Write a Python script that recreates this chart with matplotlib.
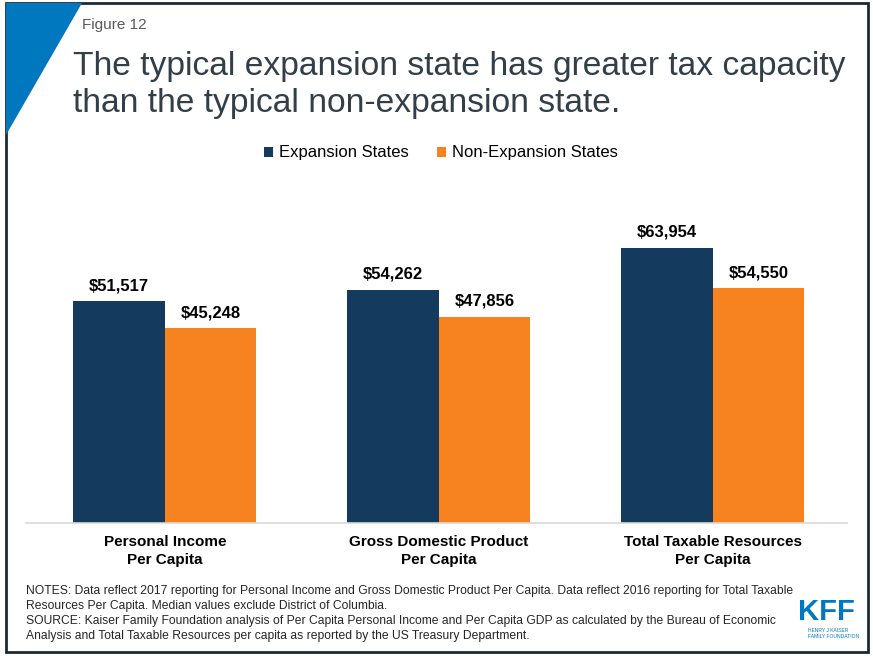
import matplotlib
matplotlib.use("Agg")
import matplotlib.pyplot as plt
import numpy as np
from matplotlib.patches import Polygon, Rectangle

categories = ["Personal Income\nPer Capita", "Gross Domestic Product\nPer Capita", "Total Taxable Resources\nPer Capita"]
expansion = [51517, 54262, 63954]
non_expansion = [45248, 47856, 54550]
series_names = ["Expansion States", "Non-Expansion States"]

NAVY = "#143A5E"
ORANGE = "#F68220"
TXT = "#333F48"

plt.rcParams['font.family'] = ['Liberation Sans', 'DejaVu Sans']

fig = plt.figure(figsize=(8.73, 6.56), dpi=100)
fig.patch.set_facecolor("white")

W, H = 873, 656
def fx(px): return px / W
def fy(py): return 1 - py / H

# frame
fig.add_artist(Rectangle((fx(6), fy(652)), fx(868) - fx(6), fy(3) - fy(652),
                         transform=fig.transFigure, fill=False, edgecolor="#1B2A3A", lw=2.0))
# blue triangle
fig.add_artist(Polygon([(fx(6), fy(3)), (fx(82), fy(3)), (fx(6), fy(135))],
                       closed=True, transform=fig.transFigure, facecolor="#0078C0", edgecolor="none"))

fig.text(fx(82), fy(25), "Figure 12", fontsize=11, color="#595959", va="center", ha="left")
fig.text(fx(73), fy(75), "The typical expansion state has greater tax capacity", fontsize=24.2,
         color=TXT, va="baseline", ha="left")
fig.text(fx(73), fy(112), "than the typical non-expansion state.", fontsize=24.2,
         color=TXT, va="baseline", ha="left")

ax = fig.add_axes([fx(26), fy(523), fx(847) - fx(26), (523 - 200.5) / H])
x = np.arange(len(categories))
bw = 0.334
b1 = ax.bar(x - bw / 2, expansion, bw, color=NAVY, label=series_names[0])
b2 = ax.bar(x + bw / 2, non_expansion, bw, color=ORANGE, label=series_names[1])
ax.set_xlim(-0.507, 2.49)
ax.set_ylim(0, 75000)
for bars in (b1, b2):
    for r in bars:
        ax.annotate(f"${r.get_height():,.0f}", (r.get_x() + r.get_width() / 2, r.get_height()),
                    xytext=(0, 6), textcoords="offset points", ha="center", va="bottom",
                    fontsize=12, fontweight="bold", color="black")
for s in ["top", "right", "left"]:
    ax.spines[s].set_visible(False)
ax.spines["bottom"].set_color("#D9D9D9")
ax.spines["bottom"].set_linewidth(1.2)
ax.set_yticks([])
ax.set_xticks(x)
ax.set_xticklabels(categories, fontsize=11, fontweight="bold", color="black", linespacing=1.3)
ax.tick_params(axis="x", length=0, pad=9)

leg = fig.legend(handles=[b1, b2], labels=series_names, loc="center", bbox_to_anchor=(fx(441), fy(153)),
                 ncol=2, frameon=False, fontsize=12, handlelength=0.55, handleheight=0.55,
                 handletextpad=0.35, columnspacing=1.7)
for t in leg.get_texts():
    t.set_color("black")

notes = ["NOTES: Data reflect 2017 reporting for Personal Income and Gross Domestic Product Per Capita. Data reflect 2016 reporting for Total Taxable",
         "Resources Per Capita. Median values exclude District of Columbia.",
         "SOURCE: Kaiser Family Foundation analysis of Per Capita Personal Income and Per Capita GDP as calculated by the Bureau of Economic",
         "Analysis and Total Taxable Resources per capita as reported by the US Treasury Department."]
for i, line in enumerate(notes):
    fig.text(fx(26), fy(591 + 15 * i), line, fontsize=8.7, color="#262626", va="center", ha="left")

fig.text(fx(826), fy(612), "KFF", fontsize=21, fontweight="bold", color="#0078C0", ha="center", va="center")
fig.text(fx(808), fy(630), "HENRY J KAISER", fontsize=3.6, color="#0078C0", ha="left", va="center")
fig.text(fx(808), fy(636), "FAMILY FOUNDATION", fontsize=3.6, color="#0078C0", ha="left", va="center")

fig.savefig("out.png", dpi=100, facecolor="white")
